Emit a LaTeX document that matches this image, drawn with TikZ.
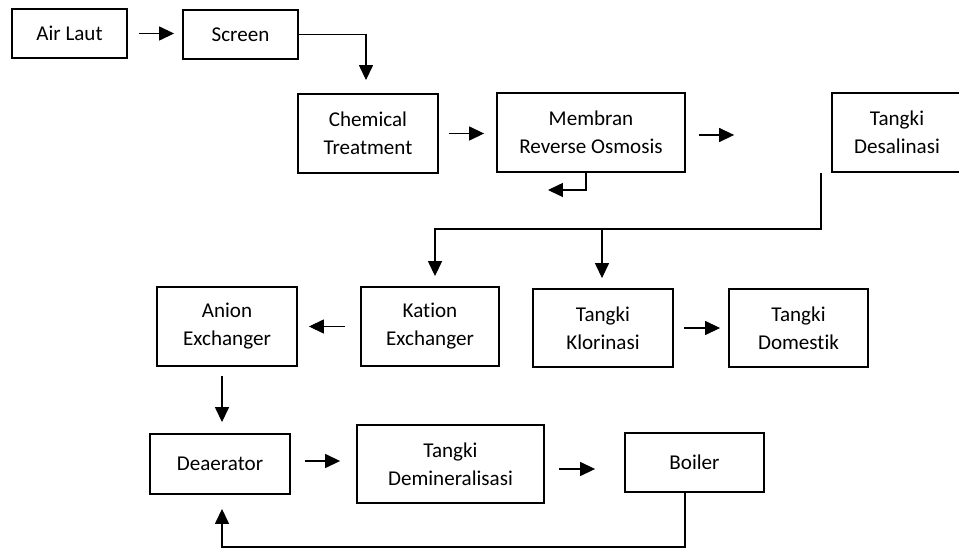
\documentclass[tikz,border=0pt]{standalone}
\usepackage{fontspec}
\setmainfont{Carlito}[Ligatures={NoCommon,NoRare}]
\usetikzlibrary{arrows.meta,positioning}

\begin{document}
\begin{tikzpicture}[%
        x=0.02cm, y=-0.02cm,
        every node/.style={draw, line width=1.1pt, align=center, inner sep=0pt,
          font=\fontsize{12}{16}\selectfont},
        flow/.style={->, line width=0.6pt},
        >={Triangle[length=8.5pt,width=8pt]}
      ]
      \clip (0,0) rectangle (959,550);
      % baris atas
      \node (airlaut) [minimum width=2.3cm, minimum height=0.98cm] at (69.5,33.5) {Air Laut};
      \node (screen) [minimum width=2.3cm, minimum height=0.98cm] at (240.5,34.5) {Screen};
      \node (chem) [minimum width=2.8cm, minimum height=1.58cm] at (368,133.5) {Chemical\\Treatment};
      \node (membran) [minimum width=3.76cm, minimum height=1.58cm] at (591,132.5) {Membran\\Reverse Osmosis};
      \node (desal) [minimum width=2.6cm, minimum height=1.58cm] at (897,132.5) {Tangki\\Desalinasi};
      % baris tengah
      \node (anion) [minimum width=2.8cm, minimum height=1.58cm] at (227,326.5) {Anion\\Exchanger};
      \node (kation) [minimum width=2.76cm, minimum height=1.58cm] at (430,326.5) {Kation\\Exchanger};
      \node (klor) [minimum width=2.8cm, minimum height=1.56cm] at (603,328) {Tangki\\Klorinasi};
      \node (domestik) [minimum width=2.78cm, minimum height=1.56cm] at (798.5,328) {Tangki\\Domestik};
      % baris bawah
      \node (deaerator) [minimum width=2.8cm, minimum height=1.2cm] at (220,464) {Deaerator};
      \node (demin) [minimum width=3.74cm, minimum height=1.56cm] at (450.5,464) {Tangki\\Demineralisasi};
      \node (boiler) [minimum width=2.78cm, minimum height=1.18cm] at (694.5,462.5) {Boiler};

      \coordinate (desalout) at (821,173);
      \coordinate (bus) at (602,229);
      \coordinate (reject) at (548,190);
      \coordinate (loopback) at (685,547);

      \draw [flow, shorten <=0.22cm, shorten >=0.16cm] (airlaut.east) -- (airlaut.east -| screen.west);
      \draw [flow, shorten >=0.26cm] (screen.east) -| (366,0 |- chem.north);
      \draw [flow, shorten <=0.2cm, shorten >=0.24cm] (chem.east) -- (chem.east -| membran.west);
      \draw [flow, shorten <=0.26cm, shorten >=1.94cm] ([yshift=-0.05cm]membran.east) -- ([yshift=-0.05cm]membran.east -| desal.west);
      \draw [flow] ([xshift=-0.1cm]membran.south) |- (reject);
      \draw [flow, shorten >=0.2cm] (desalout) |- (bus) -| ([xshift=0.1cm]kation.north);
      \draw [flow, shorten >=0.2cm] (bus) -- (bus |- klor.north);
      \draw [flow, shorten <=0.3cm, shorten >=0.22cm] (kation.west) -- (kation.west -| anion.east);
      \draw [flow, shorten <=0.2cm, shorten >=0.16cm] (klor.east) -- (klor.east -| domestik.west);
      \draw [flow, shorten <=0.18cm, shorten >=0.22cm] ([xshift=-0.1cm]anion.south) -- ([xshift=-0.1cm]anion.south |- deaerator.north);
      \draw [flow, shorten <=0.28cm, shorten >=0.32cm] ([yshift=0.06cm]deaerator.east) -- ([yshift=0.06cm]deaerator.east -| demin.west);
      \draw [flow, shorten <=0.28cm, shorten >=0.58cm] ([yshift=-0.1cm]demin.east) -- ([yshift=-0.1cm]demin.east -| boiler.west);
      \draw [flow, shorten >=0.28cm] (boiler.south -| loopback) -- (loopback) -| ([xshift=0.04cm]deaerator.south);
    \end{tikzpicture}
\end{document}
